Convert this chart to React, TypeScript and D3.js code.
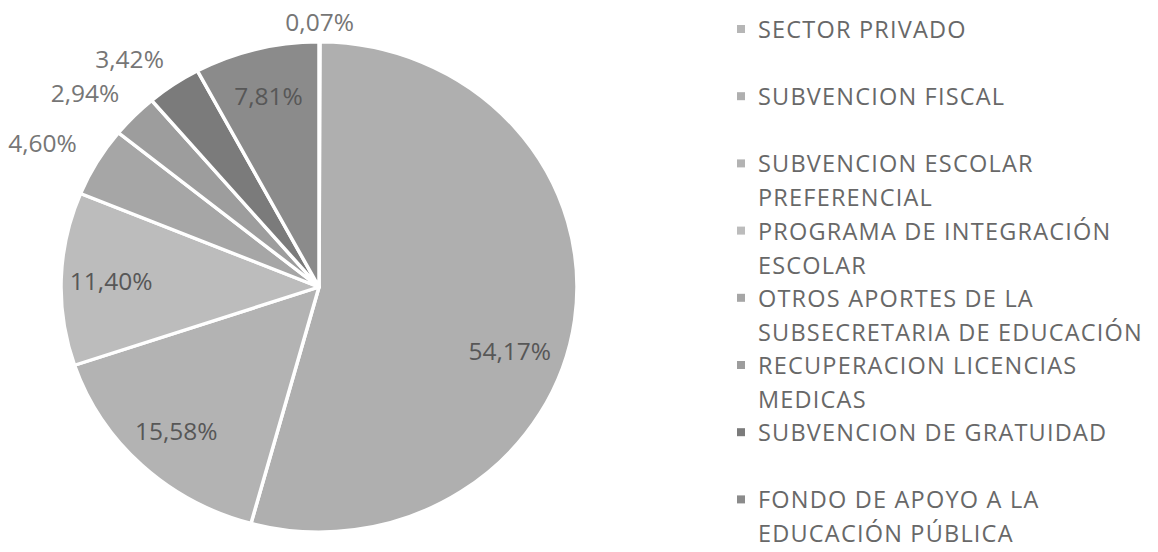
import React, { useEffect, useRef } from "react";
import * as d3 from "d3";

// categories, in the order the slices run (clockwise from 12 o'clock)
const categories = [
    "SECTOR PRIVADO",
    "SUBVENCION FISCAL",
    "SUBVENCION ESCOLAR PREFERENCIAL",
    "PROGRAMA DE INTEGRACIÓN ESCOLAR",
    "OTROS APORTES DE LA SUBSECRETARIA DE EDUCACIÓN",
    "RECUPERACION LICENCIAS MEDICAS",
    "SUBVENCION DE GRATUIDAD",
    "FONDO DE APOYO A LA EDUCACIÓN PÚBLICA",
];

// legend text as it wraps in the picture
const legendLines = [
    ["SECTOR PRIVADO"],
    ["SUBVENCION FISCAL"],
    ["SUBVENCION ESCOLAR", "PREFERENCIAL"],
    ["PROGRAMA DE INTEGRACIÓN", "ESCOLAR"],
    ["OTROS APORTES DE LA", "SUBSECRETARIA DE EDUCACIÓN"],
    ["RECUPERACION LICENCIAS", "MEDICAS"],
    ["SUBVENCION DE GRATUIDAD"],
    ["FONDO DE APOYO A LA", "EDUCACIÓN PÚBLICA"],
];

const percentages = [0.07, 54.17, 15.58, 11.4, 4.6, 2.94, 3.42, 7.81];

const sliceColors = [
    "#b6b6b6",
    "#afafaf",
    "#b3b3b3",
    "#bcbcbc",
    "#a6a6a6",
    "#9d9d9d",
    "#7b7b7b",
    "#8b8b8b",
];

// labels that Excel put outside the pie
const outsideLabel = [true, false, false, false, true, true, true, false];

function PieChart() {
    const d3Container = useRef(null);

    useEffect(() => {
        if (!d3Container.current) return;

        const width = 1158;
        const height = 552;
        const cx = 319;
        const cy = 287;
        const radius = 258;
        const squash = 0.95; // the scan is a bit flattened vertically
        const font = "'Open Sans', 'Noto Sans', sans-serif";

        const svg = d3.select(d3Container.current);
        svg.selectAll("*").remove();

        const pie = d3
            .pie()
            .sort(null)
            .value((d) => d);
        const arcs = pie(percentages);

        const arc = d3.arc().innerRadius(0).outerRadius(radius);

        const fmt = (v) => v.toFixed(2).replace(".", ",") + "%";

        svg.append("g")
            .attr("class", "slices")
            .attr("transform", `translate(${cx},${cy}) scale(1,${squash})`)
            .selectAll("path")
            .data(arcs)
            .join("path")
            .attr("d", arc)
            .attr("fill", (d, i) => sliceColors[i])
            .attr("stroke", "#ffffff")
            .attr("stroke-width", 3.5)
            .attr("stroke-linejoin", "round");

        // position of a label, along the slice's mid angle
        const labelPos = (d, r, shift = 0) => {
            const a = (d.startAngle + d.endAngle) / 2 + shift;
            return [cx + r * Math.sin(a), cy - r * Math.cos(a) * squash];
        };

        const labels = svg
            .append("g")
            .attr("class", "labels")
            .attr("font-family", font)
            .attr("font-size", 24.5);

        arcs.forEach((d, i) => {
            if (outsideLabel[i]) {
                const mid = (d.startAngle + d.endAngle) / 2;
                const nearTop = Math.abs(Math.sin(mid)) < 0.2;
                const [x, y] = labelPos(d, nearTop ? 280 : 286, nearTop ? 0 : 0.025);
                labels
                    .append("text")
                    .attr("x", x)
                    .attr("y", y)
                    .attr("text-anchor", nearTop ? "middle" : "end")
                    .attr("dominant-baseline", "central")
                    .attr("fill", "#767676")
                    .text(fmt(percentages[i]));
            } else {
                // the big slice label sits lower than its mid angle
                const shift = i === 1 ? 0.2 : 0;
                const [x, y] = labelPos(d, i === 1 ? 202 : 208, shift);
                labels
                    .append("text")
                    .attr("x", x)
                    .attr("y", y)
                    .attr("text-anchor", "middle")
                    .attr("dominant-baseline", "central")
                    .attr("fill", "#575757")
                    .text(fmt(percentages[i]));
            }
        });

        // legend
        const legendY = d3
            .scaleBand()
            .domain(categories)
            .range([12, 12 + 67.2 * categories.length]);

        const legend = svg
            .append("g")
            .attr("class", "legend")
            .attr("font-family", font)
            .attr("font-size", 23.5)
            .attr("fill", "#686868");

        const items = legend
            .selectAll("g")
            .data(categories)
            .join("g")
            .attr("transform", (d) => `translate(737,${legendY(d) + 17})`);

        items
            .append("rect")
            .attr("x", 0)
            .attr("y", -4)
            .attr("width", 8)
            .attr("height", 8)
            .attr("fill", (d, i) => sliceColors[i]);

        items.each(function (d, i) {
            d3.select(this)
                .selectAll("text")
                .data(legendLines[i])
                .join("text")
                .attr("x", 21)
                .attr("y", (t, j) => j * 34)
                .attr("dominant-baseline", "central")
                .attr("letter-spacing", 1.2)
                .text((t) => t);
        });

        svg.attr("width", width).attr("height", height);
    }, []);

    return (
        <svg
            ref={d3Container}
            width={1158}
            height={552}
            style={{ display: "block", position: "absolute", left: 0, top: 0, background: "#ffffff" }}
        />
    );
}

export default function App() {
    return <PieChart />;
}
